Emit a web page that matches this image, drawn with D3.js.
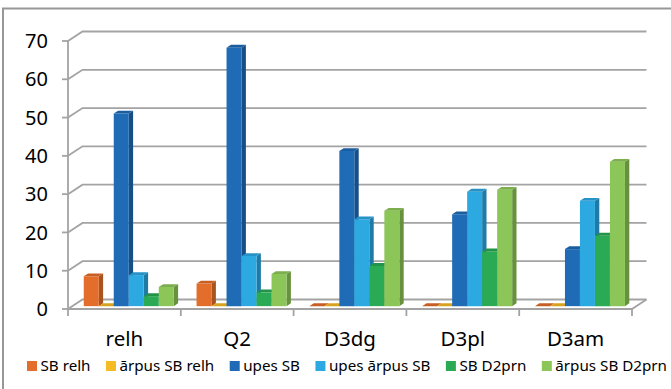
<!DOCTYPE html>
<html>
<head>
<meta charset="utf-8">
<script src="https://cdn.jsdelivr.net/npm/d3@7/dist/d3.min.js"></script>
<style>
  html, body { margin: 0; padding: 0; background: #fff; }
  svg { display: block; }
  text { font-family: "Noto Sans", "Open Sans", sans-serif; font-weight: 400; fill: #000; }
</style>
</head>
<body>
<svg id="chart" width="671" height="389"></svg>
<script>
// Categories along the horizontal axis
const categories = ["relh", "Q2", "D3dg", "D3pl", "D3am"];

// One value per category for each series
const seriesNames = ["SB relh", "ārpus SB relh", "upes SB", "upes ārpus SB", "SB D2prn", "ārpus SB D2prn"];
const sbRelh        = [7.8, 5.9, 0, 0, 0];
const arpusSbRelh   = [0, 0, 0, 0, 0];
const upesSb        = [50.3, 67.5, 40.5, 24.0, 14.9];
const upesArpusSb   = [8.1, 13.1, 22.7, 29.9, 27.5];
const sbD2prn       = [2.6, 3.6, 10.5, 14.3, 18.4];
const arpusSbD2prn  = [5.0, 8.4, 24.9, 30.4, 37.7];
const seriesValues = [sbRelh, arpusSbRelh, upesSb, upesArpusSb, sbD2prn, arpusSbD2prn];

// Value axis ticks
const yTicks = [0, 10, 20, 30, 40, 50, 60, 70];

// Face colours per series: front, right side, top
const palette = [
  { front: "#E36E2B", side: "#A9531F", top: "#C75F25" },
  { front: "#F5BB24", side: "#B88C1A", top: "#D8A21F" },
  { front: "#1F6BB5", side: "#164F87", top: "#1B5E9F" },
  { front: "#2DA9E1", side: "#1F7BA6", top: "#2792C6" },
  { front: "#2AAA54", side: "#1E7C3D", top: "#24934A" },
  { front: "#8DC658", side: "#67913F", top: "#7BAE4C" }
];

const svg = d3.select("#chart");

// Front plane geometry plus the oblique depth offset of the 3D box
const DX = 14.5, DY = 9.5;
const x = d3.scaleBand().domain(categories).range([68, 632]).paddingInner(0).paddingOuter(0);
const y = d3.scaleLinear().domain([0, 70]).range([309, 41]);
const proj = (px, py, z) => [px + z * DX, py - z * DY];

// Chart area border
svg.append("rect")
  .attr("x", 3).attr("y", 8.5).attr("width", 700).attr("height", 400)
  .attr("fill", "none").attr("stroke", "#979797").attr("stroke-width", 2);

const gridColor = "#a3a3a3";
const axisG = svg.append("g");

// Gridlines running along the side wall and across the back wall
yTicks.forEach(v => {
  const yy = y(v);
  const pts = [proj(x.range()[0], yy, 0), proj(x.range()[0], yy, 1), proj(x.range()[1], yy, 1)];
  axisG.append("polyline")
    .attr("points", pts.map(p => p.join(",")).join(" "))
    .attr("fill", "none").attr("stroke", gridColor).attr("stroke-width", 1.8);
});

// Floor: front edge and right edge
const f0 = x.range()[0], f1 = x.range()[1];
axisG.append("polyline")
  .attr("points", [[f0, y(0)], [f1, y(0)], proj(f1, y(0), 1)].map(p => p.join(",")).join(" "))
  .attr("fill", "none").attr("stroke", gridColor).attr("stroke-width", 1.8);

// Vertical value axis on the front-left edge
axisG.append("line")
  .attr("x1", f0).attr("x2", f0).attr("y1", y(70)).attr("y2", y(0))
  .attr("stroke", gridColor).attr("stroke-width", 1.8);

// Value axis ticks and labels
yTicks.forEach(v => {
  axisG.append("line")
    .attr("x1", f0 - 6).attr("x2", f0).attr("y1", y(v)).attr("y2", y(v))
    .attr("stroke", gridColor).attr("stroke-width", 1.8);
  axisG.append("text")
    .attr("x", 48).attr("y", y(v)).attr("dy", "0.36em")
    .attr("text-anchor", "end").attr("font-size", 20)
    .text(v);
});

// Category axis ticks at the band boundaries, and labels
const bounds = categories.map(c => x(c)).concat([f1]);
bounds.forEach(bx => {
  axisG.append("line")
    .attr("x1", bx).attr("x2", bx).attr("y1", y(0)).attr("y2", y(0) + 7)
    .attr("stroke", gridColor).attr("stroke-width", 1.8);
});
categories.forEach(c => {
  axisG.append("text")
    .attr("x", x(c) + x.bandwidth() / 2).attr("y", 346)
    .attr("text-anchor", "middle").attr("font-size", 20.5)
    .text(c);
});

// Bars: each series gets a slot inside its category band
const ZF = 0.3, ZB = 0.6;
const bw = 15;
const groupW = bw * seriesNames.length;
const barsG = svg.append("g");

const poly = (pts, fill) => barsG.append("polygon")
  .attr("points", pts.map(p => p.join(",")).join(" "))
  .attr("fill", fill);

categories.forEach((c, ci) => {
  const left = x(c) + (x.bandwidth() - groupW) / 2;
  seriesValues.forEach((vals, si) => {
    const v = vals[ci];
    const x0 = left + si * bw, x1 = x0 + bw;
    const yb = y(0), yt = y(v);
    const col = palette[si];
    if (v > 0) {
      // right side face
      poly([proj(x1, yb, ZF), proj(x1, yb, ZB), proj(x1, yt, ZB), proj(x1, yt, ZF)], col.side);
      // front face
      poly([proj(x0, yb, ZF), proj(x1, yb, ZF), proj(x1, yt, ZF), proj(x0, yt, ZF)], col.front);
    }
    // top face
    poly([proj(x0, yt, ZF), proj(x1, yt, ZF), proj(x1, yt, ZB), proj(x0, yt, ZB)], col.top);
  });
});

// Legend along the bottom, spread evenly between a fixed left and right edge
const legendG = svg.append("g");
const legStart = 27, legEnd = 667, ly = 366, sq = 10, sqGap = 3.5;
const items = seriesNames.map((name, i) => {
  const g = legendG.append("g");
  g.append("rect")
    .attr("y", ly - sq / 2).attr("width", sq).attr("height", sq)
    .attr("fill", palette[i].front);
  const t = g.append("text")
    .attr("x", sq + sqGap).attr("y", ly).attr("dy", "0.35em")
    .attr("font-size", 15.2)
    .text(name);
  return { g, w: sq + sqGap + t.node().getComputedTextLength() };
});
const totalW = d3.sum(items, d => d.w);
const gap = (legEnd - legStart - totalW) / (items.length - 1);
let lx = legStart;
items.forEach(d => {
  d.g.attr("transform", `translate(${lx},0)`);
  lx += d.w + gap;
});
</script>
</body>
</html>
